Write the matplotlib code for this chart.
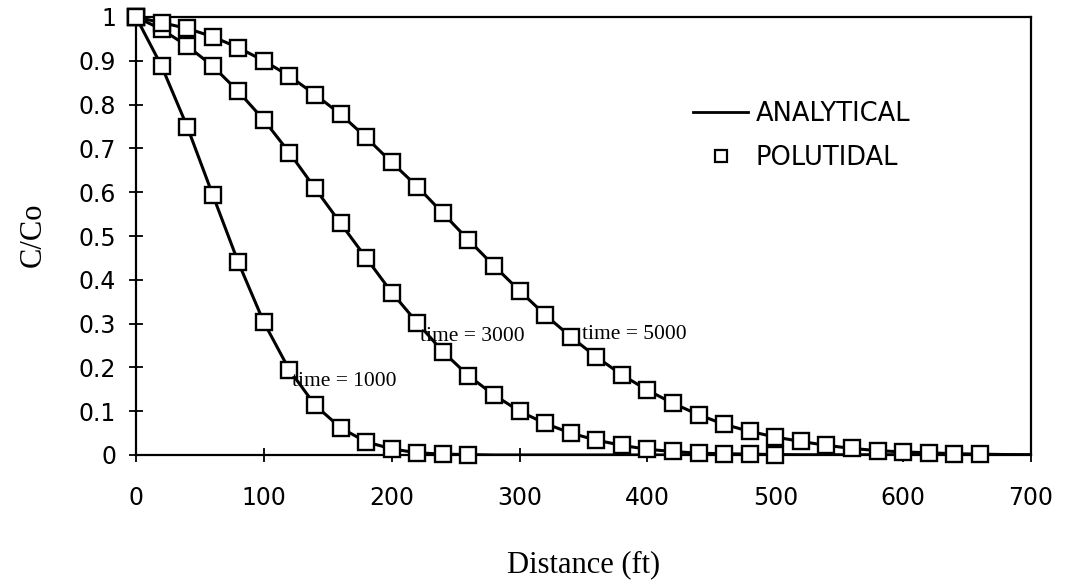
import matplotlib
matplotlib.use("Agg")
import matplotlib.pyplot as plt
from matplotlib.lines import Line2D

# distance (ft), every 20 ft
distance = list(range(0, 720, 20))

# analytical C/Co for the three times
c_1000 = [1, 0.888, 0.75, 0.594, 0.44, 0.303, 0.194, 0.114, 0.062, 0.03,
          0.014, 0.005, 0.002, 0.001, 0, 0, 0, 0, 0, 0,
          0, 0, 0, 0, 0, 0, 0, 0, 0, 0,
          0, 0, 0, 0, 0, 0]
c_3000 = [1, 0.972, 0.934, 0.888, 0.83, 0.765, 0.69, 0.609, 0.529, 0.45,
          0.371, 0.302, 0.236, 0.181, 0.137, 0.1, 0.072, 0.05, 0.034, 0.022,
          0.013, 0.008, 0.004, 0.003, 0.002, 0.001, 0, 0, 0, 0,
          0, 0, 0, 0, 0, 0]
c_5000 = [1, 0.987, 0.974, 0.955, 0.93, 0.9, 0.865, 0.823, 0.778, 0.725,
          0.668, 0.613, 0.552, 0.491, 0.432, 0.375, 0.32, 0.27, 0.224, 0.183,
          0.148, 0.118, 0.092, 0.07, 0.054, 0.041, 0.031, 0.022, 0.015, 0.01,
          0.007, 0.005, 0.003, 0.002, 0.001, 0]

# POLUTIDAL points stop earlier than the analytical lines
n_pts = [14, 26, 34]
times = ["time = 1000", "time = 3000", "time = 5000"]
label_xy = [(122, 0.167), (222, 0.27), (349, 0.274)]

fig = plt.figure(figsize=(10.65, 5.84), dpi=100)
ax = fig.add_axes([136/1065, 1 - 455/584, 895/1065, 438/584])

for c, n in zip([c_1000, c_3000, c_5000], n_pts):
    ax.plot(distance, c, color="black", lw=2.2, zorder=2)
    ax.plot(distance[:n], c[:n], ls="none", marker="s", ms=11,
            mfc="white", mec="black", mew=1.7, zorder=3, clip_on=False)

for t, (x, y) in zip(times, label_xy):
    ax.text(x, y, t, family="Liberation Serif", fontsize=15.5,
            ha="left", va="center", zorder=4)

ax.set_xlim(0, 700)
ax.set_ylim(0, 1)
ax.set_xticks(range(0, 800, 100))
ax.set_yticks([i / 10 for i in range(11)])
ax.set_yticklabels(["0", "0.1", "0.2", "0.3", "0.4", "0.5", "0.6", "0.7",
                    "0.8", "0.9", "1"])
ax.tick_params(direction="inout", length=10.5, width=1.3, colors="black",
               labelsize=17)
ax.tick_params(axis="x", pad=17)
ax.tick_params(axis="y", pad=9)
for s in ax.spines.values():
    s.set_linewidth(1.6)

ax.set_xlabel("Distance (ft)", family="Liberation Serif", fontsize=22,
              va="center")
ax.set_ylabel("C/Co", family="Liberation Serif", fontsize=22, va="center")
ax.xaxis.set_label_coords(0.5, (455 - 565) / 438)
ax.yaxis.set_label_coords((33 - 136) / 895, (455 - 235) / 438)

handles = [Line2D([], [], color="black", lw=2.0),
           Line2D([], [], ls="none", marker="s", ms=9, mfc="white",
                  mec="black", mew=1.6)]
fig.legend(handles, ["ANALYTICAL", "POLUTIDAL"], loc="upper left",
           bbox_to_anchor=(693/1065, 1 - 101/584), frameon=False,
           borderpad=0, borderaxespad=0, handlelength=2.15,
           handletextpad=0.28, labelspacing=0.7, fontsize=18.5)

fig.savefig("out.png", dpi=100)
